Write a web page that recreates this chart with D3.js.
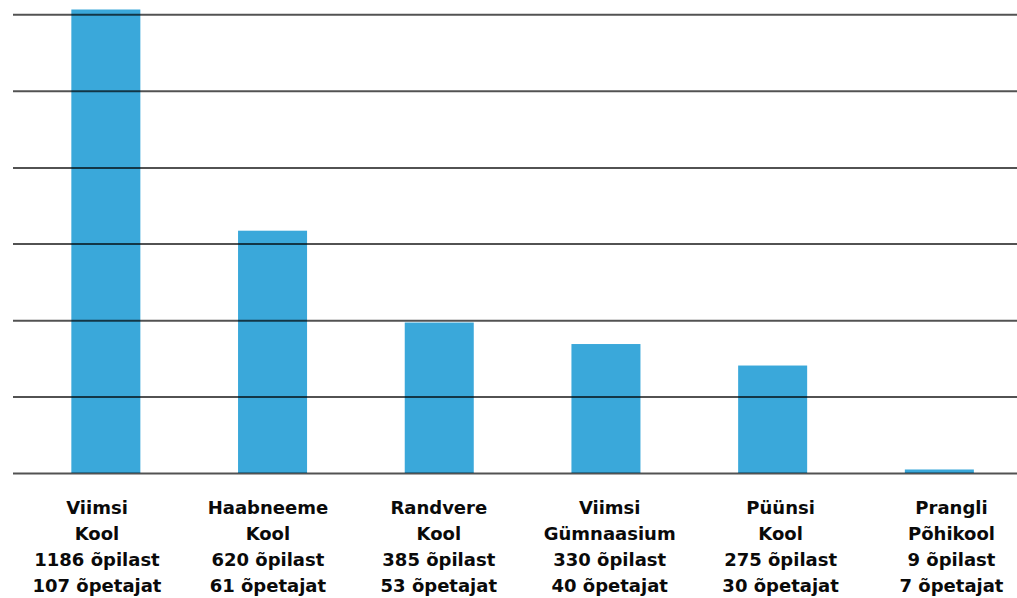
<!DOCTYPE html>
<html>
<head>
<meta charset="utf-8">
<script src="https://cdn.jsdelivr.net/npm/d3@7"></script>
<style>
  html, body { margin: 0; padding: 0; background: #fff; }
  svg { display: block; }
</style>
</head>
<body>
<svg id="chart" width="1017" height="598"></svg>
<script>
const schools = ["Viimsi Kool", "Haabneeme Kool", "Randvere Kool", "Viimsi Gümnaasium", "Püünsi Kool", "Prangli Põhikool"];
const students = [1186, 620, 385, 330, 275, 9];
const teachers = [107, 61, 53, 40, 30, 7];
const gridValues = [0, 196, 391, 587, 782, 978, 1174];

const svg = d3.select("#chart");
const W = 1017, H = 598;
const baseY = 473, topY = 9.5;

const x = d3.scaleBand().domain(schools).range([22.5, 1022.7]).paddingInner(0.586).paddingOuter(0.293);
const xl = d3.scalePoint().domain(schools).range([97, 951.5]);
const y = d3.scaleLinear().domain([0, 1186]).range([baseY, topY]);

svg.append("rect").attr("width", W).attr("height", H).attr("fill", "#fff");

const data = schools.map((s, i) => ({ s, st: students[i], te: teachers[i] }));

svg.append("g").selectAll("rect").data(data).join("rect")
  .attr("x", d => x(d.s))
  .attr("width", x.bandwidth())
  .attr("y", d => y(d.st))
  .attr("height", d => baseY - y(d.st))
  .attr("fill", "#3aa8da");

const grid = d3.axisLeft(y).tickValues(gridValues).tickSize(-(W - 13)).tickFormat("");
svg.append("g").attr("transform", `translate(13,0)`).call(grid)
  .call(g => g.select(".domain").remove())
  .call(g => g.selectAll(".tick line").attr("stroke", "#000").attr("stroke-opacity", 0.68).attr("stroke-width", 2));

const labels = svg.append("g").selectAll("text").data(data).join("text")
  .attr("x", d => xl(d.s))
  .attr("y", 514)
  .attr("text-anchor", "middle")
  .attr("font-family", "'DejaVu Sans', sans-serif")
  .attr("font-weight", "bold")
  .attr("font-size", 18)
  .attr("fill", "#0a0a0a");

labels.each(function(d) {
  const parts = d.s.split(" ");
  const lines = [parts[0], parts.slice(1).join(" "), `${d.st} õpilast`, `${d.te} õpetajat`];
  d3.select(this).selectAll("tspan").data(lines).join("tspan")
    .attr("x", xl(d.s))
    .attr("dy", (l, i) => i === 0 ? 0 : 25.9)
    .text(l => l);
});
</script>
</body>
</html>
